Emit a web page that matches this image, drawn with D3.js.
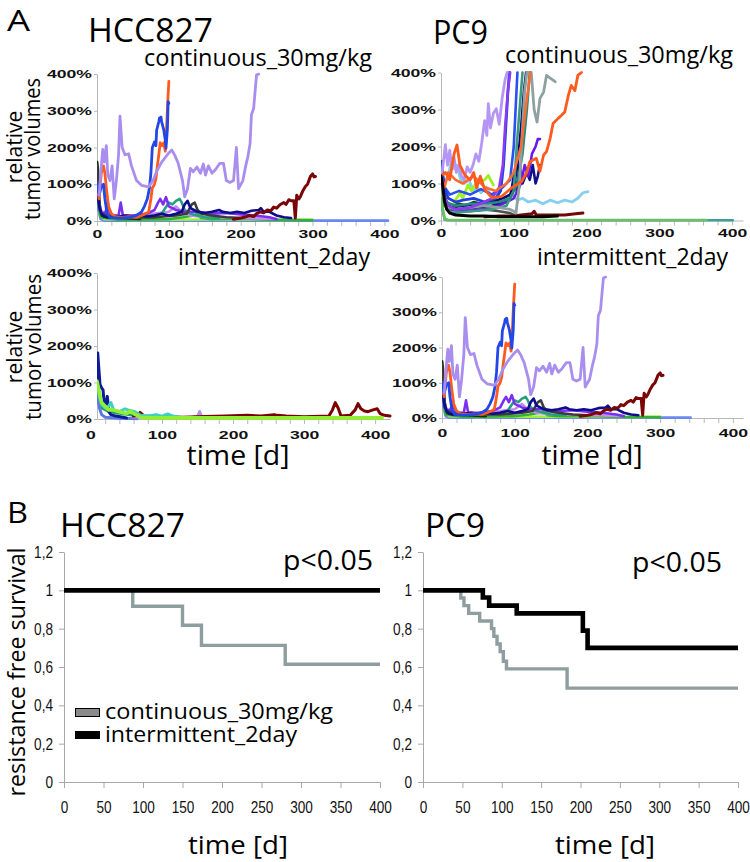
<!DOCTYPE html>
<html><head><meta charset="utf-8">
<script src="https://cdn.jsdelivr.net/npm/d3@7"></script>
<style>body{margin:0;background:#fff}</style>
</head><body>
<svg id="c" width="750" height="862" xmlns="http://www.w3.org/2000/svg"></svg>
<script>
// ---------- DATA ----------
// Panel A tick labels
const volTicks = [0, 100, 200, 300, 400];
const dayTicks = [0, 100, 200, 300, 400];
// Panel B tick labels
const survTicks = [0, 0.2, 0.4, 0.6, 0.8, 1, 1.2];
const survTickLabels = ["0", "0,2", "0,4", "0,6", "0,8", "1", "1,2"];
const kmDayTicks = [0, 50, 100, 150, 200, 250, 300, 350, 400];

// HCC827 continuous_30mg/kg  (time [d], relative volume %)
const hccC_flat = [[0,90],[2,30],[5,5],[10,1],[405,1]];
const hccC_lime = [[0,100],[4,20],[10,5],[50,3],[150,4],[250,3],[300,4]];
const hccC_green = [[0,80],[5,10],[30,3],[100,5],[120,10],[135,15],[140,20],[145,8],[160,5],[200,6],[250,3],[300,2]];
const hccC_darkgreen = [[0,160],[1,140],[2,80],[4,30],[7,15],[15,10],[40,8],[60,6]];
const hccC_orchid = [[0,100],[5,30],[10,20],[20,15],[40,12],[60,15],[80,20],[100,25],[110,40],[115,30],[130,15],[150,10],[200,8],[250,6]];
const hccC_darkgray = [[0,150],[3,50],[6,20],[15,15],[40,10],[80,10],[110,15],[125,20],[132,45],[136,50],[140,30],[145,20],[160,15],[180,10],[200,8]];
const hccC_teal = [[0,80],[5,20],[20,8],[60,10],[80,15],[90,20],[95,35],[100,50],[105,45],[110,55],[115,60],[118,50],[122,30],[130,20],[140,15],[150,10],[170,8]];
const hccC_violet = [[0,90],[4,30],[8,20],[12,25],[15,50],[18,15],[30,15],[33,50],[36,15],[50,15],[70,20],[80,30],[85,50],[88,60],[92,45],[96,65],[100,40],[110,30],[120,25],[140,25],[160,20],[180,22],[200,18],[220,15],[240,10],[250,5]];
const hccC_navy = [[0,100],[3,40],[6,20],[10,12],[20,10],[30,12],[40,15],[50,12],[60,15],[70,12],[80,15],[90,20],[100,15],[110,20],[118,25],[122,45],[126,55],[130,35],[135,30],[140,25],[150,22],[160,25],[170,30],[175,25],[185,22],[195,25],[205,22],[215,28],[225,30],[228,35],[232,25],[240,25],[250,15],[260,10],[270,8]];
const hccC_maroon = [[190,5],[200,8],[205,10],[208,12],[212,15],[218,12],[222,20],[227,25],[232,22],[237,30],[242,28],[246,38],[250,35],[255,45],[260,50],[263,45],[267,58],[270,55],[274,55],[275,30],[276,8],[277,40],[278,70],[281,60],[283,66],[286,80],[290,94],[293,100],[297,121],[300,128],[302,120],[304,121]];
const hccC_orange = [[0,100],[3,60],[6,130],[9,150],[11,130],[13,90],[16,40],[20,20],[25,12],[35,10],[45,12],[55,10],[62,15],[68,20],[72,25],[75,60],[77,90],[80,100],[82,115],[84,150],[86,180],[88,213],[91,205],[93,213],[95,190],[97,260],[98,306],[100,380]];
const hccC_blue = [[0,100],[3,70],[6,95],[9,100],[11,60],[14,20],[18,10],[30,8],[45,10],[55,15],[62,25],[66,40],[70,60],[73,90],[75,130],[77,200],[80,215],[82,205],[83,247],[86,270],[87,280],[89,283],[90,270],[92,255],[93,247],[95,220],[96,198],[98,250],[99,325],[100,320]];
const hccC_lavender = [[3,70],[6,150],[8,195],[10,160],[13,205],[15,125],[18,110],[21,150],[24,60],[27,110],[30,180],[32,285],[35,200],[39,180],[44,183],[48,150],[55,110],[62,97],[72,93],[78,110],[83,135],[90,160],[99,183],[104,193],[108,180],[113,157],[119,110],[122,66],[126,88],[130,143],[134,134],[139,147],[144,130],[148,155],[151,125],[155,150],[160,130],[165,140],[171,157],[176,157],[180,110],[185,105],[190,110],[194,200],[197,88],[203,110],[207,150],[210,175],[213,210],[215,290],[218,306],[220,352],[222,397],[225,400]];

// PC9 intermittent_2day (as shown in the figure)
const pc9I_flat = [[0,90],[2,30],[5,5],[10,1],[342,1]];

// PC9 continuous_30mg/kg
const pc9C_tealflat = [[0,50],[5,3],[10,0.5],[401,0.5]];
const pc9C_greenflat = [[0,60],[5,5],[10,1.5],[365,1.5]];
const pc9C_black = [[0,120],[2,100],[5,50],[8,30],[12,20],[20,15],[40,12],[60,12],[80,10],[100,10],[120,10],[140,10],[160,12]];
const pc9C_maroon = [[60,10],[80,12],[100,12],[110,15],[125,18],[128,25],[131,15],[150,15],[170,15],[185,18],[195,20]];
const pc9C_darkgray = [[1,100],[5,40],[15,30],[40,25],[60,30],[80,25],[95,20],[100,15]];
const pc9C_darkgreen = [[1,120],[4,70],[8,50],[15,40],[25,45],[35,40],[45,50],[55,45],[65,55],[72,50],[80,40]];
const pc9C_lime = [[1,80],[8,40],[15,35],[19,52],[26,74],[30,60],[37,96],[42,80],[48,100],[55,105],[60,110],[65,122],[68,110],[72,96]];
const pc9C_sky = [[1,130],[5,100],[10,120],[14,160],[18,140],[22,150],[27,110],[32,100],[38,110],[45,80],[50,90],[55,75],[62,90],[68,70],[75,75],[82,60],[90,65],[98,70],[105,55],[112,60],[120,50],[130,55],[140,45],[150,55],[160,48],[170,55],[180,50],[188,60],[195,75],[202,78]];
const pc9C_navy = [[1,110],[5,50],[10,35],[25,30],[50,35],[70,40],[85,50],[95,60],[100,120],[104,80],[108,150],[112,100],[118,130],[122,110],[126,150],[130,100],[133,120],[136,150]];
const pc9C_navy2 = [[1,100],[6,45],[15,35],[30,40],[50,45],[70,50],[85,60],[95,70],[100,90],[105,150],[110,250],[114,350],[117,400]];
const pc9C_violet = [[1,90],[8,30],[30,25],[60,30],[80,40],[100,60],[110,100],[115,150],[120,120],[125,180],[130,200],[133,220],[136,220]];
const pc9C_gray = [[1,90],[6,40],[20,30],[40,35],[60,40],[80,35],[95,30],[100,25],[103,20],[108,100],[112,250],[115,350],[118,400],[124,400],[128,300],[132,266],[136,330],[141,347],[145,392],[150,385],[155,378],[157,375]];
const pc9C_teal = [[1,100],[5,40],[15,20],[40,25],[70,30],[90,40],[100,80],[104,200],[108,300],[112,400]];
const pc9C_teal2 = [[1,110],[6,50],[20,40],[40,45],[60,45],[80,50],[95,60],[105,100],[112,180],[118,300],[122,400]];
const pc9C_orange = [[1,122],[6,130],[12,110],[18,180],[22,204],[26,150],[33,122],[40,110],[45,130],[49,88],[54,120],[60,84],[70,61],[83,65],[97,88],[111,106],[118,130],[122,159],[131,168],[136,133],[141,177],[145,186],[150,222],[154,262],[161,276],[166,285],[170,293],[175,338],[179,365],[184,351],[188,392],[193,400]];
const pc9C_orange2 = [[1,110],[5,90],[10,130],[20,110],[30,100],[45,120],[60,90],[75,80],[90,100],[100,130],[110,200],[118,330],[123,400]];
const pc9C_blue = [[1,160],[3,110],[6,80],[10,60],[20,50],[30,55],[45,60],[60,50],[75,60],[82,80],[86,150],[89,250],[92,350],[94,400]];
const pc9C_blue2 = [[1,140],[5,90],[12,70],[25,80],[40,70],[55,85],[70,70],[85,90],[95,110],[100,200],[103,320],[105,400]];
const pc9C_purple = [[1,100],[5,60],[10,40],[20,30],[40,35],[60,50],[70,60],[80,90],[85,150],[88,250],[92,350],[95,400]];
const pc9C_lavender = [[1,120],[4,170],[6,205],[9,150],[12,190],[15,140],[18,170],[21,130],[25,150],[28,120],[32,110],[36,145],[40,130],[44,150],[48,180],[52,160],[56,210],[60,270],[63,230],[65,316],[68,250],[72,290],[76,302],[80,260],[84,330],[88,380],[91,400]];

// HCC827 intermittent_2day
const hccI_darkteal = [[8.5,70],[15,30],[25,20],[40,15],[60,10],[80,5],[120,3]];
const hccI_cornflower = [[8.5,95],[10,50],[12,30],[15,12],[20,5],[40,2],[65,1]];
const hccI_navy = [[8.5,100],[9.5,181],[11,140],[12.7,95],[15,85],[17,80],[19,35],[21,40],[23,62],[25,20],[28,12],[35,8],[45,5],[50,3]];
const hccI_lavender = [[60,5],[100,4],[140,4],[150,8],[153,21],[156,6],[170,4]];
const hccI_maroon = [[60,8],[65,10],[69,18],[75,8],[100,6],[130,5],[160,7],[190,8],[220,10],[240,8],[258,12],[262,10],[275,8],[300,6],[335,8],[340,25],[344,45],[348,30],[352,8],[365,10],[372,25],[376,42],[380,28],[385,22],[390,20],[397,25],[403,28],[407,15],[413,10],[421,8]];
const hccI_teal = [[8.5,100],[12,60],[15,40],[20,30],[25,35],[28,45],[32,25],[40,20],[48,28],[52,25],[58,22],[62,20],[70,10],[80,8],[92,12],[100,8],[108,14],[115,8],[125,5],[140,3]];
const hccI_lime = [[8.5,104],[12,70],[15,45],[20,35],[25,25],[30,25],[40,20],[50,15],[56,22],[60,15],[70,5],[80,3],[150,3],[250,3],[350,3],[410,3]];

// Kaplan-Meier: [time, survival]
const kmHccContinuous = [[0,1],[87,0.917],[150,0.818],[174,0.713],[280,0.614],[400,0.614]];
const kmHccIntermittent = [[0,1],[400,1]];
const kmPc9Continuous = [[0,1],[48,0.96],[52,0.92],[58,0.88],[72,0.84],[87,0.80],[90,0.76],[94,0.72],[98,0.68],[102,0.63],[106,0.59],[183,0.49],[400,0.49]];
const kmPc9Intermittent = [[0,1],[76,0.963],[84,0.92],[119,0.88],[203,0.79],[209,0.70],[400,0.70]];

// ---------- DRAW ----------
const svg = d3.select("#c");
const defs = svg.append("defs");
const TITLE_FONT = "'Open Sans', 'Noto Sans', sans-serif";
const TICK_FONT = "'Liberation Sans', Arial, sans-serif";

function stretchTicks(g, sx) {
  g.selectAll("text").each(function() {
    const t = d3.select(this);
    const xx = +t.attr("x") || 0;
    t.attr("x", 0).attr("transform", `translate(${xx},0) scale(${sx},1)`);
  });
}

function volumePanel(id, cfg, series) {
  const x = d3.scaleLinear().domain(cfg.xd).range(cfg.xr);
  const y = d3.scaleLinear().domain([0, 400]).range(cfg.yr);
  defs.append("clipPath").attr("id", id).append("rect")
    .attr("x", cfg.xr[0]).attr("y", cfg.yr[1] - 1.5)
    .attr("width", cfg.xr[1] - cfg.xr[0] + 2).attr("height", cfg.yr[0] - cfg.yr[1] + 3);
  const g = svg.append("g");
  const minor = d3.range(0, 401, 20).filter(d => d >= cfg.xd[0]);
  const ax = g.append("g").attr("transform", `translate(0,${cfg.yr[0]})`)
    .call(d3.axisBottom(x).tickValues(minor).tickSize(5).tickSizeOuter(0).tickPadding(cfg.pad)
      .tickFormat(d => dayTicks.includes(d) ? d : ""));
  if (cfg.xd[0] > 0) {
    ax.append("text").attr("x", x(0)).attr("y", 5 + cfg.pad).attr("dy", "0.71em").text("0")
      .attr("fill", "#000").attr("text-anchor", "middle");
  }
  const ay = g.append("g").attr("transform", `translate(${cfg.xr[0]},0)`)
    .call(d3.axisLeft(y).tickValues(volTicks).tickSize(3).tickSizeOuter(0).tickPadding(2).tickFormat(d => d + "%"));
  [ax, ay].forEach(a => {
    a.selectAll("text").attr("font-family", TICK_FONT).attr("font-weight", "bold").attr("font-size", 11).attr("fill", "#111");
    a.selectAll("line,path").attr("stroke", "#b8b8b8");
  });
  stretchTicks(ax, 1.6);
  stretchTicks(ay, 1.6);
  const line = d3.line().x(d => x(d[0])).y(d => y(Math.min(d[1], 400)));
  const lg = g.append("g").attr("clip-path", `url(#${id})`);
  series.forEach(s => {
    lg.append("path").datum(s.data).attr("d", line).attr("fill", "none")
      .attr("stroke", s.color).attr("stroke-width", s.w || 2.6)
      .attr("stroke-linejoin", "round").attr("stroke-linecap", "round");
  });
}

const hccContSeries = [
  {data: hccC_flat, color: "#6a88f0"},
  {data: hccC_lime, color: "#9ef040"},
  {data: hccC_green, color: "#35b035"},
  {data: hccC_orchid, color: "#c78cf0"},
  {data: hccC_darkgreen, color: "#0f2f10", w: 3},
  {data: hccC_teal, color: "#23a07e"},
  {data: hccC_violet, color: "#7b2ff0"},
  {data: hccC_darkgray, color: "#3c3c3c"},
  {data: hccC_navy, color: "#0c0c8c"},
  {data: hccC_maroon, color: "#7a0505", w: 3},
  {data: hccC_orange, color: "#ff5a1f", w: 2.8},
  {data: hccC_blue, color: "#2347e6", w: 2.8},
  {data: hccC_lavender, color: "#a98ef0", w: 2.8}
];
const pc9IntSeries = hccContSeries.map(s => s.data === hccC_flat ? {data: pc9I_flat, color: s.color} : s);

const pc9ContSeries = [
  {data: pc9C_tealflat, color: "#3e9f9a"},
  {data: pc9C_greenflat, color: "#6cc060"},
  {data: pc9C_darkgray, color: "#505050"},
  {data: pc9C_darkgreen, color: "#1d401d"},
  {data: pc9C_maroon, color: "#700a0a", w: 3},
  {data: pc9C_sky, color: "#85d0f0", w: 2.8},
  {data: pc9C_lime, color: "#a0f020", w: 2.8},
  {data: pc9C_navy, color: "#10108a"},
  {data: pc9C_navy2, color: "#0a0a70"},
  {data: pc9C_violet, color: "#6a1ae8"},
  {data: pc9C_teal, color: "#3a9a80"},
  {data: pc9C_teal2, color: "#2a8a7a"},
  {data: pc9C_gray, color: "#8fa0a0", w: 2.8},
  {data: pc9C_blue2, color: "#2a50f0"},
  {data: pc9C_blue, color: "#1f3fe0", w: 2.8},
  {data: pc9C_purple, color: "#8a3cf0"},
  {data: pc9C_lavender, color: "#b596f5", w: 2.8},
  {data: pc9C_orange2, color: "#ff6a30"},
  {data: pc9C_orange, color: "#ff5a1e", w: 2.8},
  {data: pc9C_black, color: "#000000", w: 3}
];

const hccIntSeries = [
  {data: hccI_darkteal, color: "#20a060"},
  {data: hccI_cornflower, color: "#5a7ae6", w: 3},
  {data: hccI_lavender, color: "#b090f0"},
  {data: hccI_maroon, color: "#7a0000", w: 3},
  {data: hccI_navy, color: "#0a1a9a", w: 3},
  {data: hccI_teal, color: "#40d0c0", w: 3},
  {data: hccI_lime, color: "#90f030", w: 3.6}
];

volumePanel("cTL", {xd: [0, 405], xr: [97, 388], yr: [221, 74], pad: 4}, hccContSeries);
volumePanel("cTR", {xd: [0, 415], xr: [441, 743], yr: [220.5, 72.5], pad: 4}, pc9ContSeries);
volumePanel("cBL", {xd: [8.5, 421], xr: [97, 390], yr: [419, 273], pad: 7}, hccIntSeries);
volumePanel("cBR", {xd: [0, 414], xr: [442, 743], yr: [418, 277], pad: 6}, pc9IntSeries);

// KM panels
function kmPanel(cfg, cont, inter) {
  const x = d3.scaleLinear().domain([0, 400]).range(cfg.xr);
  const y = d3.scaleLinear().domain([0, 1.2]).range([782, 552]);
  const g = svg.append("g");
  const ax = g.append("g").attr("transform", "translate(0,782)")
    .call(d3.axisBottom(x).tickValues(kmDayTicks).tickSize(6).tickSizeOuter(0).tickPadding(13));
  const ay = g.append("g").attr("transform", `translate(${cfg.xr[0]},0)`)
    .call(d3.axisLeft(y).tickValues(survTicks).tickSize(5).tickSizeOuter(0).tickPadding(6)
      .tickFormat((d, i) => survTickLabels[i]));
  [ax, ay].forEach(a => {
    a.selectAll("text").attr("font-family", TICK_FONT).attr("font-size", 17).attr("fill", "#111");
    a.selectAll("line,path").attr("stroke", "#a8a8a8");
  });
  stretchTicks(ax, 0.8);
  stretchTicks(ay, 0.8);
  const line = d3.line().curve(d3.curveStepAfter).x(d => x(d[0])).y(d => y(d[1]));
  g.append("path").datum(cont).attr("d", line).attr("fill", "none").attr("stroke", "#8e9d9f").attr("stroke-width", 3.4);
  g.append("path").datum(inter).attr("d", line).attr("fill", "none").attr("stroke", "#000").attr("stroke-width", 4.6);
}
kmPanel({xr: [64, 380]}, kmHccContinuous, kmHccIntermittent);
kmPanel({xr: [423, 738]}, kmPc9Continuous, kmPc9Intermittent);

// ---------- TEXT ----------
function txt(s, x, y, size, opts = {}) {
  const t = svg.append("text").attr("x", x).attr("y", y).text(s)
    .attr("font-family", TITLE_FONT).attr("font-size", size).attr("fill", "#000");
  if (opts.len) t.attr("textLength", opts.len).attr("lengthAdjust", "spacingAndGlyphs");
  if (opts.anchor) t.attr("text-anchor", opts.anchor);
  if (opts.rot) t.attr("x", 0).attr("y", 0).attr("transform", `translate(${x},${y}) rotate(-90)`);
  return t;
}
txt("A", 7, 31, 29, {len: 23});
txt("HCC827", 88, 42, 33, {len: 125});
txt("PC9", 433, 44, 33, {len: 55});
txt("continuous_30mg/kg", 144, 66, 24, {len: 228});
txt("continuous_30mg/kg", 505, 63, 24, {len: 228});
txt("intermittent_2day", 178, 265, 24, {len: 192});
txt("intermittent_2day", 537, 265, 24, {len: 191});
txt("relative", 22, 147, 21, {anchor: "middle", rot: true});
txt("tumor volumes", 40, 149, 21, {anchor: "middle", rot: true, len: 142});
txt("relative", 22, 347, 21, {anchor: "middle", rot: true});
txt("tumor volumes", 41, 347, 21, {anchor: "middle", rot: true, len: 146});
txt("time [d]", 238, 465, 27, {anchor: "middle", len: 103});
txt("time [d]", 592, 465, 27, {anchor: "middle", len: 101});

txt("B", 7, 523, 29, {len: 21});
txt("HCC827", 60, 537, 33, {len: 125});
txt("PC9", 425, 537, 33, {len: 60});
txt("p<0.05", 283, 570, 28, {len: 90});
txt("p<0.05", 632, 572, 28, {len: 90});
txt("resistance free survival", 25, 672, 23, {anchor: "middle", rot: true, len: 249});
txt("time [d]", 238, 854, 26, {anchor: "middle", len: 100});
txt("time [d]", 605, 854, 26, {anchor: "middle", len: 100});

// legend
svg.append("rect").attr("x", 75.5).attr("y", 708.5).attr("width", 24).attr("height", 8)
  .attr("fill", "#8a8a8a").attr("stroke", "#000").attr("stroke-width", 1);
svg.append("rect").attr("x", 75).attr("y", 731).attr("width", 25).attr("height", 8).attr("fill", "#000");
txt("continuous_30mg/kg", 105, 719, 22, {len: 228});
txt("intermittent_2day", 105, 742, 22, {len: 192});
</script>
</body></html>
